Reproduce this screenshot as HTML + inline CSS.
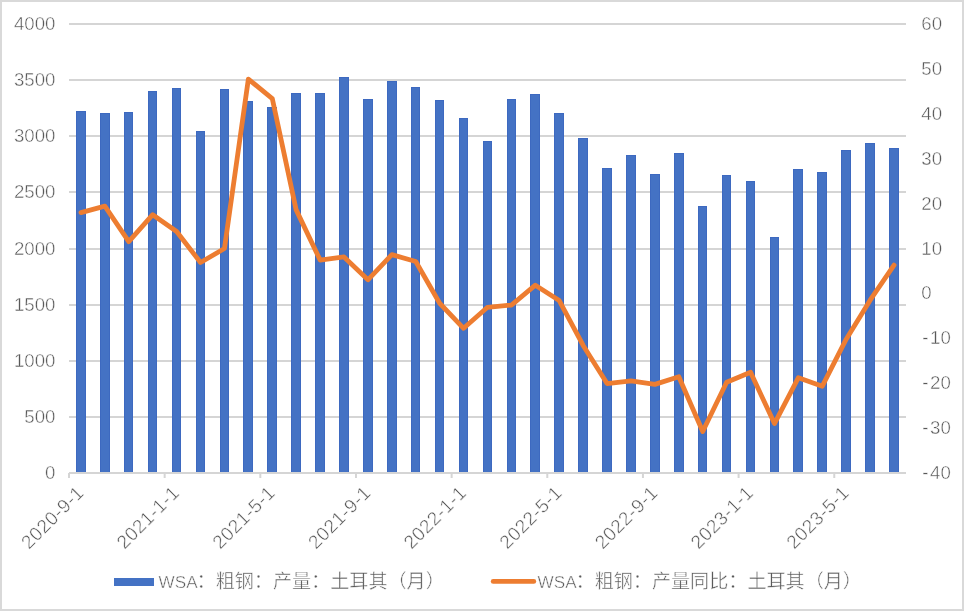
<!DOCTYPE html>
<html><head><meta charset="utf-8"><style>
html,body{margin:0;padding:0;background:#fff;}
body{width:964px;height:611px;overflow:hidden;}
svg{display:block;will-change:transform;}
.t{stroke:#fff;stroke-width:0.45px;font-family:"Liberation Sans","Noto Sans CJK SC",sans-serif;font-size:18.67px;fill:#595959;}
.g{stroke:#D5D5D5;stroke-width:2;}
.b{fill:#4472C4;stroke:#3D69C0;stroke-width:1;}
.xl{letter-spacing:0.4px;font-size:19px;}
.lg{font-size:19.1px;}
.lat{font-size:17.1px;}
</style></head><body>
<svg width="964" height="611" viewBox="0 0 964 611">
<rect x="1" y="1" width="962" height="609" fill="#fff" stroke="#D9D9D9" stroke-width="2"/>
<line x1="69.0" y1="24" x2="906.0" y2="24" class="g"/>
<line x1="69.0" y1="80" x2="906.0" y2="80" class="g"/>
<line x1="69.0" y1="136" x2="906.0" y2="136" class="g"/>
<line x1="69.0" y1="192" x2="906.0" y2="192" class="g"/>
<line x1="69.0" y1="249" x2="906.0" y2="249" class="g"/>
<line x1="69.0" y1="305" x2="906.0" y2="305" class="g"/>
<line x1="69.0" y1="361" x2="906.0" y2="361" class="g"/>
<line x1="69.0" y1="417" x2="906.0" y2="417" class="g"/>
<rect x="76.5" y="111.5" width="9" height="362" class="b"/>
<rect x="100.5" y="113.5" width="9" height="360" class="b"/>
<rect x="124.5" y="112.5" width="8" height="361" class="b"/>
<rect x="148.5" y="91.5" width="8" height="382" class="b"/>
<rect x="172.5" y="88.5" width="8" height="385" class="b"/>
<rect x="196.5" y="131.5" width="8" height="342" class="b"/>
<rect x="220.5" y="89.5" width="8" height="384" class="b"/>
<rect x="243.5" y="101.5" width="9" height="372" class="b"/>
<rect x="267.5" y="107.5" width="9" height="366" class="b"/>
<rect x="291.5" y="93.5" width="9" height="380" class="b"/>
<rect x="315.5" y="93.5" width="9" height="380" class="b"/>
<rect x="339.5" y="77.5" width="9" height="396" class="b"/>
<rect x="363.5" y="99.5" width="9" height="374" class="b"/>
<rect x="387.5" y="81.5" width="9" height="392" class="b"/>
<rect x="411.5" y="87.5" width="8" height="386" class="b"/>
<rect x="435.5" y="100.5" width="8" height="373" class="b"/>
<rect x="459.5" y="118.5" width="8" height="355" class="b"/>
<rect x="483.5" y="141.5" width="8" height="332" class="b"/>
<rect x="507.5" y="99.5" width="8" height="374" class="b"/>
<rect x="530.5" y="94.5" width="9" height="379" class="b"/>
<rect x="554.5" y="113.5" width="9" height="360" class="b"/>
<rect x="578.5" y="138.5" width="9" height="335" class="b"/>
<rect x="602.5" y="168.5" width="9" height="305" class="b"/>
<rect x="626.5" y="155.5" width="9" height="318" class="b"/>
<rect x="650.5" y="174.5" width="9" height="299" class="b"/>
<rect x="674.5" y="153.5" width="9" height="320" class="b"/>
<rect x="698.5" y="206.5" width="8" height="267" class="b"/>
<rect x="722.5" y="175.5" width="8" height="298" class="b"/>
<rect x="746.5" y="181.5" width="8" height="292" class="b"/>
<rect x="770.5" y="237.5" width="8" height="236" class="b"/>
<rect x="793.5" y="169.5" width="9" height="304" class="b"/>
<rect x="817.5" y="172.5" width="9" height="301" class="b"/>
<rect x="841.5" y="150.5" width="9" height="323" class="b"/>
<rect x="865.5" y="143.5" width="9" height="330" class="b"/>
<rect x="889.5" y="148.5" width="9" height="325" class="b"/>
<line x1="69.0" y1="473.0" x2="906.0" y2="473.0" class="g"/>
<line x1="69.00" y1="473.0" x2="69.00" y2="478.0" class="g"/>
<line x1="164.66" y1="473.0" x2="164.66" y2="478.0" class="g"/>
<line x1="260.31" y1="473.0" x2="260.31" y2="478.0" class="g"/>
<line x1="355.97" y1="473.0" x2="355.97" y2="478.0" class="g"/>
<line x1="451.63" y1="473.0" x2="451.63" y2="478.0" class="g"/>
<line x1="547.29" y1="473.0" x2="547.29" y2="478.0" class="g"/>
<line x1="642.94" y1="473.0" x2="642.94" y2="478.0" class="g"/>
<line x1="738.60" y1="473.0" x2="738.60" y2="478.0" class="g"/>
<line x1="834.26" y1="473.0" x2="834.26" y2="478.0" class="g"/>
<polyline points="80.96,212.58 104.87,206.16 128.79,241.63 152.70,214.69 176.61,231.44 200.53,262.51 224.44,248.50 248.36,79.09 272.27,98.53 296.19,209.89 320.10,260.04 344.01,256.90 367.93,279.80 391.84,254.65 415.76,261.52 439.67,303.28 463.59,328.29 487.50,307.32 511.41,305.07 535.33,285.18 559.24,300.58 583.16,345.48 607.07,383.51 630.99,380.82 654.90,384.41 678.81,376.78 702.73,431.56 726.64,382.30 750.56,372.29 774.47,423.61 798.39,377.68 822.30,386.21 846.21,339.20 870.13,300.13 894.04,265.11" fill="none" stroke="#ED7D31" stroke-width="4.8" stroke-linejoin="round" stroke-linecap="round"/>
<text x="55.5" y="30.00" text-anchor="end" class="t">4000</text>
<text x="55.5" y="86.12" text-anchor="end" class="t">3500</text>
<text x="55.5" y="142.25" text-anchor="end" class="t">3000</text>
<text x="55.5" y="198.38" text-anchor="end" class="t">2500</text>
<text x="55.5" y="254.50" text-anchor="end" class="t">2000</text>
<text x="55.5" y="310.62" text-anchor="end" class="t">1500</text>
<text x="55.5" y="366.75" text-anchor="end" class="t">1000</text>
<text x="55.5" y="422.88" text-anchor="end" class="t">500</text>
<text x="55.5" y="479.00" text-anchor="end" class="t">0</text>
<text x="921.3" y="30.00" class="t">60</text>
<text x="921.3" y="74.90" class="t">50</text>
<text x="921.3" y="119.80" class="t">40</text>
<text x="921.3" y="164.70" class="t">30</text>
<text x="921.3" y="209.60" class="t">20</text>
<text x="921.3" y="254.50" class="t">10</text>
<text x="921.3" y="299.40" class="t">0</text>
<text x="922.3" y="344.30" class="t">-<tspan dx="1.6">10</tspan></text>
<text x="922.3" y="389.20" class="t">-<tspan dx="1.6">20</tspan></text>
<text x="922.3" y="434.10" class="t">-<tspan dx="1.6">30</tspan></text>
<text x="922.3" y="479.00" class="t">-<tspan dx="1.6">40</tspan></text>
<text transform="translate(84.96,494.00) rotate(-45)" text-anchor="end" class="t xl">2020-9-1</text>
<text transform="translate(180.61,494.00) rotate(-45)" text-anchor="end" class="t xl">2021-1-1</text>
<text transform="translate(276.27,494.00) rotate(-45)" text-anchor="end" class="t xl">2021-5-1</text>
<text transform="translate(371.93,494.00) rotate(-45)" text-anchor="end" class="t xl">2021-9-1</text>
<text transform="translate(467.59,494.00) rotate(-45)" text-anchor="end" class="t xl">2022-1-1</text>
<text transform="translate(563.24,494.00) rotate(-45)" text-anchor="end" class="t xl">2022-5-1</text>
<text transform="translate(658.90,494.00) rotate(-45)" text-anchor="end" class="t xl">2022-9-1</text>
<text transform="translate(754.56,494.00) rotate(-45)" text-anchor="end" class="t xl">2023-1-1</text>
<text transform="translate(850.21,494.00) rotate(-45)" text-anchor="end" class="t xl">2023-5-1</text>
<rect x="114" y="578" width="40" height="8" fill="#4472C4"/>
<text x="158.6" y="587.6" class="t lg"><tspan class="lat">WSA</tspan><tspan dx="-1">：粗钢：产量：土耳其（月）</tspan></text>
<line x1="493.2" y1="581.4" x2="533.8" y2="581.4" stroke="#ED7D31" stroke-width="4.8" stroke-linecap="round"/>
<text x="537.6" y="587.6" class="t lg"><tspan class="lat">WSA</tspan><tspan dx="-1">：粗钢：产量同比：土耳其（月）</tspan></text>
</svg>
</body></html>
